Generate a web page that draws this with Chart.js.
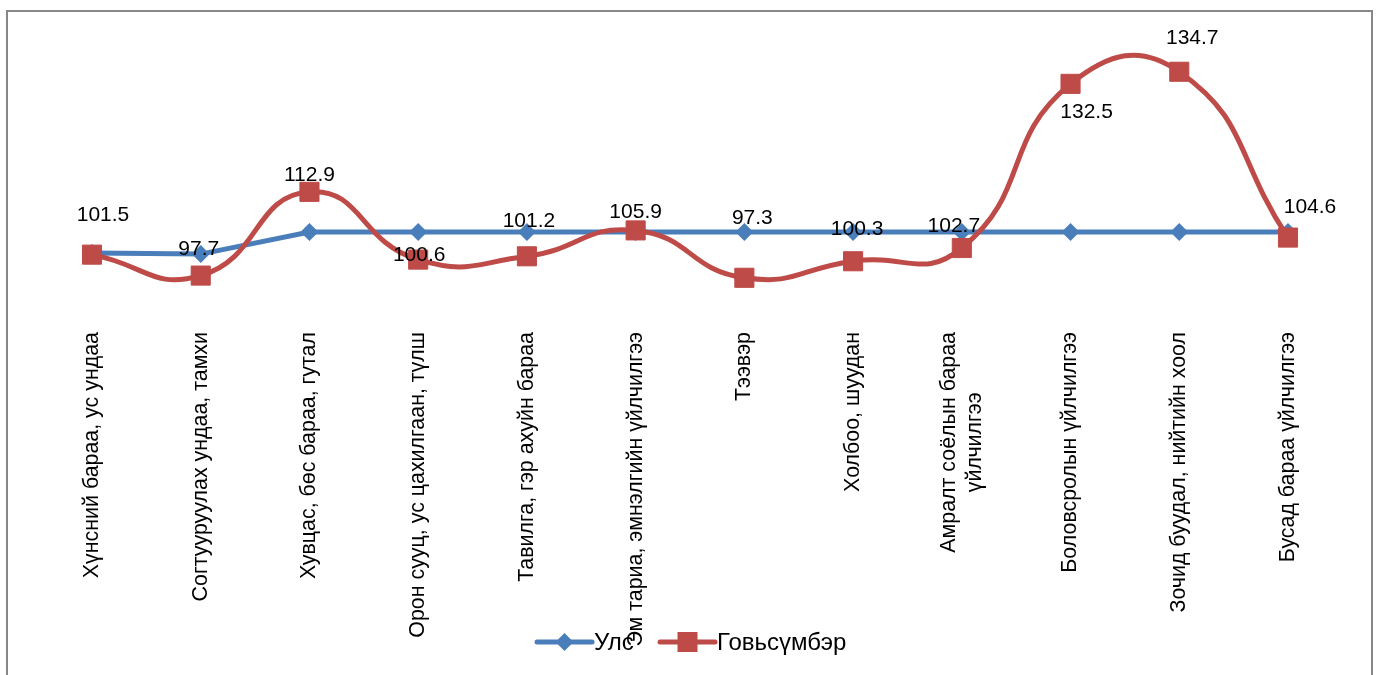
<!DOCTYPE html>
<html>
<head>
<meta charset="utf-8">
<script src="https://cdn.jsdelivr.net/npm/chart.js@4/dist/chart.umd.min.js"></script>
<style>
    html, body { margin: 0; padding: 0; background: #fff; }
    canvas { display: block; }
</style>
</head>
<body>
<canvas id="chart" width="1378" height="675"></canvas>
<script>
const categories = [
    "Хүнсний бараа, ус ундаа",
    "Согтууруулах ундаа, тамхи",
    "Хувцас, бөс бараа, гутал",
    "Орон сууц, ус цахилгаан, түлш",
    "Тавилга, гэр ахуйн бараа",
    "Эм тариа, эмнэлгийн үйлчилгээ",
    "Тээвэр",
    "Холбоо, шуудан",
    ["Амралт соёлын бараа", "үйлчилгээ"],
    "Боловсролын үйлчилгээ",
    "Зочид буудал, нийтийн хоол",
    "Бусад бараа үйлчилгээ"
];
const seriesNames = ["Улс", "Говьсүмбэр"];
const ulsValues = [101.8, 101.6, 105.6, 105.6, 105.6, 105.6, 105.6, 105.6, 105.6, 105.6, 105.6, 105.6];
const govValues = [101.5, 97.7, 112.9, 100.6, 101.2, 105.9, 97.3, 100.3, 102.7, 132.5, 134.7, 104.6];

// where each value label sits relative to its marker (dx, dy)
const labelOffsets = [
    [11, -39], [-2, -26], [0, -17], [1, -4], [2, -35], [0, -18],
    [8, -60], [4, -32], [-8, -22], [16, 28], [13, -34], [22, -30]
];

const BLUE = "#4a7ebb";
const RED = "#be4b48";
const FAMILY = "'Liberation Sans', Arial, sans-serif";

function drawMarker(ctx, style, x, y, r, color) {
    ctx.fillStyle = color;
    ctx.beginPath();
    if (style === "diamond") {
        ctx.moveTo(x - r, y);
        ctx.lineTo(x, y - r);
        ctx.lineTo(x + r, y);
        ctx.lineTo(x, y + r);
    } else {
        ctx.rect(x - r, y - r, 2 * r, 2 * r);
    }
    ctx.closePath();
    ctx.fill();
}

const extras = {
    id: "extras",
    beforeDraw(c) {
        const ctx = c.ctx;
        ctx.save();
        ctx.fillStyle = "#fff";
        ctx.fillRect(0, 0, c.width, c.height);
        ctx.strokeStyle = "#878787";
        ctx.lineWidth = 2;
        ctx.strokeRect(7, 11, 1365, 700);
        ctx.restore();
    },
    afterDatasetsDraw(c) {
        const ctx = c.ctx;
        const meta = c.getDatasetMeta(1);
        ctx.save();
        ctx.font = "21px " + FAMILY;
        ctx.fillStyle = "#000";
        ctx.textAlign = "center";
        ctx.textBaseline = "middle";
        meta.data.forEach((pt, i) => {
            ctx.fillText(govValues[i].toFixed(1), pt.x + labelOffsets[i][0], pt.y + labelOffsets[i][1]);
        });
        ctx.restore();
    },
    afterDraw(c) {
        const ctx = c.ctx;
        const xs = c.scales.x;
        ctx.save();

        // legend
        ctx.font = "24px " + FAMILY;
        const items = [
            { x: 537, color: BLUE, style: "diamond", r: 9 },
            { x: 660, color: RED, style: "square", r: 10 }
        ];
        items.forEach((it, i) => {
            ctx.strokeStyle = it.color;
            ctx.lineWidth = 5;
            ctx.lineCap = "round";
            ctx.beginPath();
            ctx.moveTo(it.x, 642);
            ctx.lineTo(it.x + 55, 642);
            ctx.stroke();
            drawMarker(ctx, it.style, it.x + 27.5, 642, it.r, it.color);
            ctx.fillStyle = "#000";
            ctx.textAlign = "left";
            ctx.textBaseline = "middle";
            ctx.fillText(seriesNames[i], it.x + 57, 643);
        });

        // category labels, rotated
        ctx.font = "21.4px " + FAMILY;
        ctx.textAlign = "center";
        ctx.textBaseline = "middle";
        categories.forEach((lab, i) => {
            const lines = Array.isArray(lab) ? lab : [lab];
            const maxW = Math.max(...lines.map(l => ctx.measureText(l).width));
            ctx.save();
            ctx.translate(xs.getPixelForValue(i), 332);
            ctx.rotate(-Math.PI / 2);
            lines.forEach((l, j) => {
                ctx.fillText(l, -maxW / 2, (j - (lines.length - 1) / 2) * 26);
            });
            ctx.restore();
        });
        ctx.restore();
    }
};

new Chart(document.getElementById("chart"), {
    type: "line",
    data: {
        labels: categories,
        datasets: [{
            label: seriesNames[0],
            data: ulsValues,
            borderColor: BLUE,
            backgroundColor: BLUE,
            borderWidth: 5,
            pointStyle: "rectRot",
            pointRadius: 9,
            pointBorderWidth: 0,
            tension: 0,
            clip: false,
            order: 2
        }, {
            label: seriesNames[1],
            data: govValues,
            borderColor: RED,
            backgroundColor: RED,
            borderWidth: 5,
            pointStyle: "rect",
            pointRadius: 13.5,
            pointBorderWidth: 1,
            tension: 0.5,
            clip: false,
            order: 1
        }]
    },
    options: {
        responsive: false,
        devicePixelRatio: 1,
        animation: false,
        layout: { padding: { left: 92, right: 90, top: 15, bottom: 357 } },
        scales: {
            x: { display: false },
            y: { display: false, min: 90, max: 145 }
        },
        plugins: {
            legend: { display: false },
            tooltip: { enabled: false }
        }
    },
    plugins: [extras]
});
</script>
</body>
</html>
